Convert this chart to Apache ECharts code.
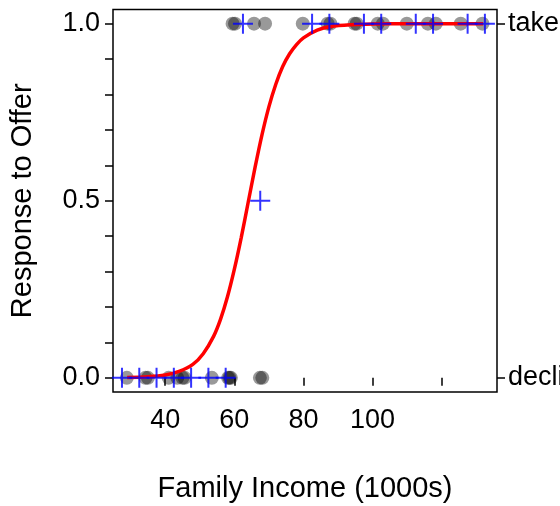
<!DOCTYPE html>
<html>
<head>
<meta charset="utf-8">
<script src="https://cdn.jsdelivr.net/npm/echarts@6/dist/echarts.min.js"></script>
<style>html,body{margin:0;padding:0;background:#fff;}#c{width:560px;height:506px;}</style>
</head>
<body>
<div id="c"></div>
<script>
// Observed incomes (1000s) for families that took the offer (y = 1)
var takenIncome = [59.5, 60.2, 65.7, 68.9, 79.8, 87.0, 87.8, 94.8, 95.4, 101.5, 103.0, 109.9, 116.0, 118.3, 125.5, 131.8];
// Observed incomes for families that declined (y = 0)
var declinedIncome = [28.9, 34.3, 35.0, 41.0, 43.5, 45.0, 45.6, 53.5, 58.2, 58.6, 59.0, 67.4, 68.1];
// Binned proportions (blue plus markers)
var binMid = [27.5, 32.5, 37.5, 42.5, 47.5, 52.5, 57.5, 62.5, 67.5, 82.5, 87.5, 97.5, 102.5, 112.5, 117.5, 127.5, 132.5];
var binProp = [0, 0, 0, 0, 0, 0, 0, 1, 0.5, 1, 1, 1, 1, 1, 1, 1, 1];
// Fitted curve values
var curveX = [29, 35, 40, 44, 48, 51, 54, 56, 58, 60, 62, 64, 66, 68, 70, 72, 74, 76, 78, 80, 84, 88, 94, 100, 110, 120, 132];
var curveY = [0.001, 0.003, 0.008, 0.018, 0.038, 0.068, 0.117, 0.165, 0.228, 0.306, 0.396, 0.495, 0.594, 0.686, 0.765, 0.829, 0.879, 0.915, 0.941, 0.960, 0.982, 0.992, 0.997, 0.999, 1.0, 1.0, 1.0];
// Tick settings
var xTicks = [40, 60, 80, 100, 120];
var xLabels = [40, 60, 80, 100];
var yTicks = [0, 0.1, 0.2, 0.3, 0.4, 0.5, 0.6, 0.7, 0.8, 0.9, 1.0];
var yLabels = [0, 0.5, 1.0];
var rightTicks = [0, 1];
var rightNames = ['declined', 'taken'];

var FONT = 'Liberation Sans, Arial, Helvetica, sans-serif';
var chart = echarts.init(document.getElementById('c'), null, {renderer: 'canvas'});

function pts(xs, ys) { return xs.map(function (x, i) { return [x, Array.isArray(ys) ? ys[i] : ys]; }); }

var plusPath = 'path://M9,0h2v20h-2z M0,9h20v2h-20z';

chart.setOption({
  animation: false,
  backgroundColor: '#fff',
  grid: {left: 113, right: 63, top: 9.5, bottom: 114, show: true, borderColor: '#000', borderWidth: 1.5,
    backgroundColor: 'transparent', containLabel: false, outerBoundsMode: 'none'},
  xAxis: {
    type: 'value', min: 24.9, max: 136,
    name: 'Family Income (1000s)', nameLocation: 'middle', nameGap: 82,
    nameTextStyle: {fontFamily: FONT, fontSize: 29, color: '#000'},
    axisLine: {show: false},
    splitLine: {show: false},
    axisTick: {show: true, length: 8, lineStyle: {color: '#000', width: 1.5}, customValues: xTicks},
    axisLabel: {show: true, customValues: xLabels, margin: 15, fontFamily: FONT, fontSize: 27, color: '#000'}
  },
  yAxis: [{
    type: 'value', min: -0.04, max: 1.04,
    name: 'Response to Offer', nameLocation: 'middle', nameGap: 76, nameRotate: 90,
    nameTextStyle: {fontFamily: FONT, fontSize: 29, color: '#000'},
    axisLine: {show: false},
    splitLine: {show: false},
    axisTick: {show: true, length: 8, lineStyle: {color: '#000', width: 1.5}, customValues: yTicks},
    axisLabel: {show: true, customValues: yLabels, margin: 13, fontFamily: FONT, fontSize: 27, color: '#000',
      formatter: function (v) { return v.toFixed(1); }}
  }, {
    type: 'value', min: -0.04, max: 1.04, position: 'right',
    axisLine: {show: false},
    splitLine: {show: false},
    axisTick: {show: true, length: 8, lineStyle: {color: '#000', width: 1.5}, customValues: rightTicks},
    axisLabel: {show: true, customValues: rightTicks, margin: 11, fontFamily: FONT, fontSize: 27, color: '#000',
      formatter: function (v) { return rightNames[Math.round(v)]; }}
  }],
  series: [
    {type: 'scatter', name: 'taken', data: pts(takenIncome, 1), symbol: 'circle', symbolSize: 14,
      itemStyle: {color: 'rgba(0,0,0,0.5)'}, z: 1, silent: true},
    {type: 'scatter', name: 'declined', data: pts(declinedIncome, 0), symbol: 'circle', symbolSize: 14,
      itemStyle: {color: 'rgba(0,0,0,0.5)'}, z: 1, silent: true},
    {type: 'line', name: 'fit', data: pts(curveX, curveY), smooth: 0.3, showSymbol: false,
      lineStyle: {color: '#ff0000', width: 3.5}, z: 2, silent: true},
    {type: 'scatter', name: 'bins', data: pts(binMid, binProp), symbol: plusPath, symbolSize: 20,
      itemStyle: {color: '#0000ff'}, z: 3, silent: true}
  ]
});
</script>
</body>
</html>
